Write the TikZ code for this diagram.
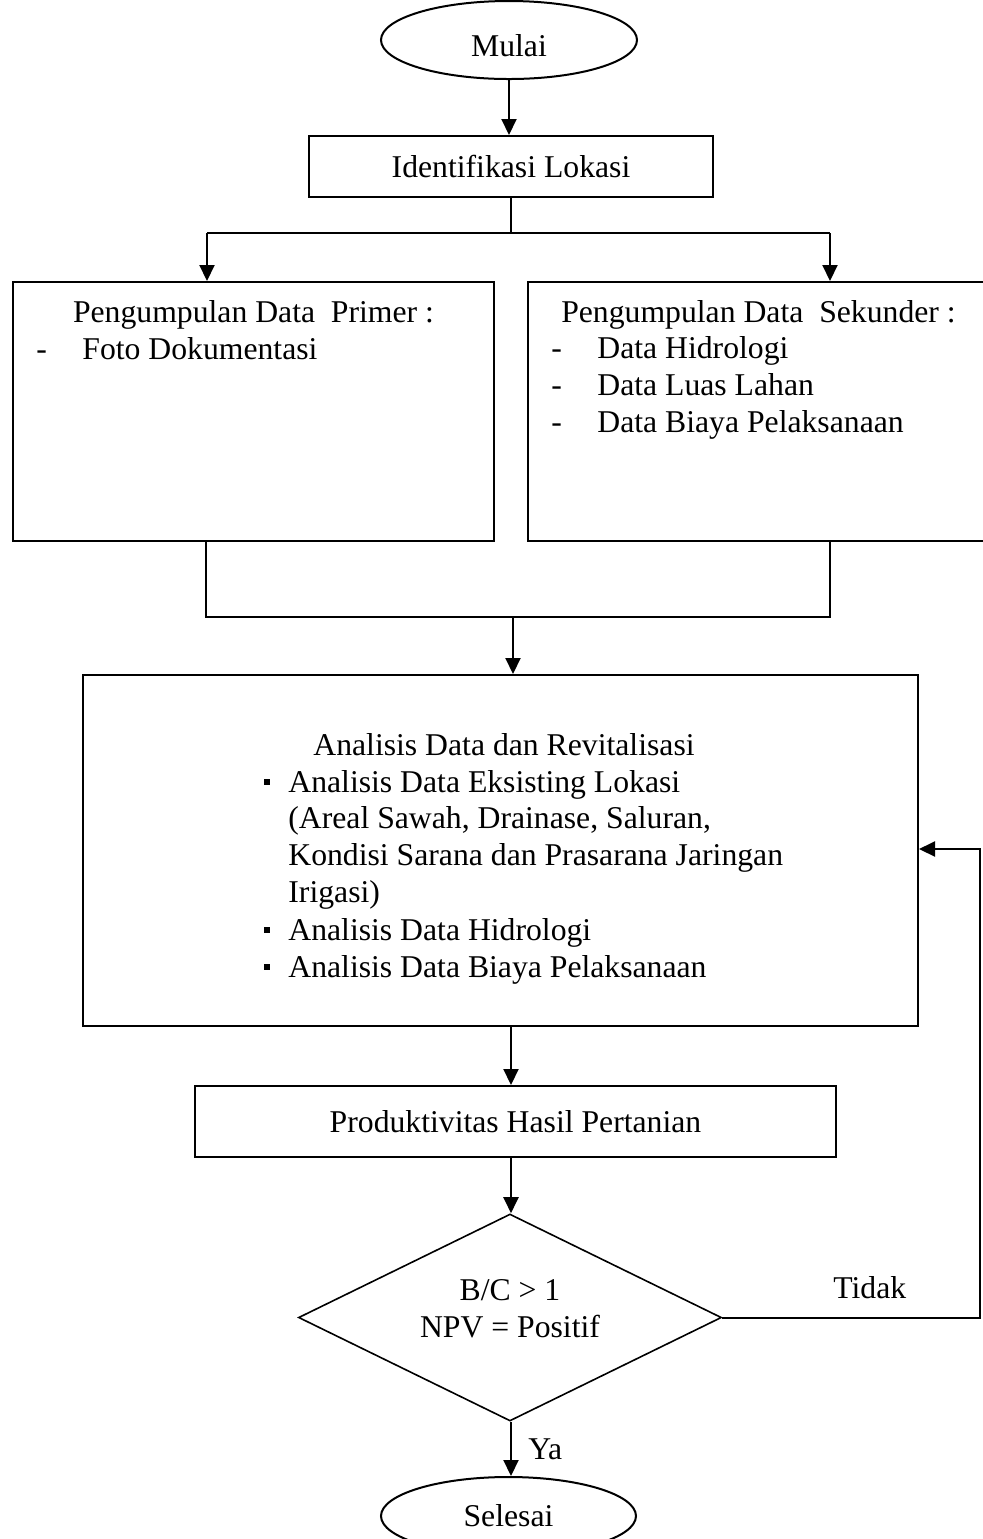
\documentclass[tikz,border=0pt]{standalone}
\usepackage{fontspec}
\setmainfont{Liberation Serif}
\usetikzlibrary{shapes.geometric,arrows.meta}

\begin{document}
\begin{tikzpicture}[x=0.5pt, y=-0.5pt,
        font=\fontsize{15.85}{18.5}\selectfont,
        kotak/.style={draw, line width=1pt, inner sep=0pt},
        teks/.style={inner sep=0pt, anchor=base west},
        garis/.style={line width=1pt},
        panah/.style={line width=1pt, -{Triangle[length=8pt,width=7.5pt]}}]
    \useasboundingbox (0,0) rectangle (982,1539);

    \node[kotak, ellipse, minimum width=128pt, minimum height=39pt, text height=17pt] (mulai) at (509,40) {Mulai};
    \node[kotak, minimum width=202pt, minimum height=30.5pt] (identifikasi) at (511,166.5) {Identifikasi Lokasi};
    \node[kotak, minimum width=240.5pt, minimum height=129.5pt] (primer) at (253.5,411.5) {};
    \node[kotak, minimum width=232pt, minimum height=129.5pt] (sekunder) at (760,411.5) {};
    \node[kotak, minimum width=417.5pt, minimum height=175.5pt] (analisis) at (500.5,850.5) {};
    \node[kotak, minimum width=320.5pt, minimum height=35.5pt] (produktivitas) at (515.5,1121.5) {Produktivitas Hasil Pertanian};
    \node[kotak, line width=0.8pt, diamond, aspect=2, minimum width=211.5pt, minimum height=103.5pt] (keputusan) at (510,1317.5) {};
    \node[kotak, ellipse, minimum width=127.5pt, minimum height=39pt] (selesai) at (508.5,1516) {Selesai};

    \node[teks, anchor=base] (judulprimer) at (253.5,322) {Pengumpulan Data\ \ Primer :};
    \node[teks] (strip-p1) at (36,359) {-};
    \node[teks] (primer-1) at (82,359) {Foto Dokumentasi};
    \node[teks, anchor=base] (judulsekunder) at (758.5,322) {Pengumpulan Data\ \ Sekunder :};
    \foreach \y/\isi [count=\i] in {358/Data Hidrologi, 395/Data Luas Lahan, 432/Data Biaya Pelaksanaan} {
        \node[teks] (strip-s\i) at (551,\y) {-};
        \node[teks] (sekunder-\i) at (597,\y) {\isi};
    }

    \node[teks] (judulanalisis) at (313,755) {Analisis Data dan Revitalisasi};
    \foreach \y/\isi [count=\i] in {792/Analisis Data Eksisting Lokasi, 828/{(Areal Sawah, Drainase, Saluran,}, 865/Kondisi Sarana dan Prasarana Jaringan, 902/Irigasi), 940/Analisis Data Hidrologi, 977/Analisis Data Biaya Pelaksanaan}
        \node[teks] (analisis-\i) at (288,\y) {\isi};
    \foreach \y in {792,940,977}
        \node[fill, inner sep=0pt, minimum size=2.6pt] (titik-\y) at (267,\y-10) {};

    \node[align=center, inner sep=0pt] (syarat) at (510,1309) {B/C > 1\\NPV = Positif};
    \node[teks] (tidak) at (833,1298) {Tidak};
    \node[teks] (ya) at (528,1459) {Ya};

    \coordinate (kiri) at (207,233);
    \coordinate (kanan) at (830,233);
    \coordinate (gabungkiri) at (206,617);
    \coordinate (gabungkanan) at (830,617);
    \coordinate (gabung) at (513,617);
    \coordinate (poros) at (511,1000);
    \coordinate (balik) at (980,849);

    \draw[panah] (mulai.south) -- (mulai.south |- identifikasi.north);
    \draw[garis] (identifikasi.south) -- (identifikasi.south |- kiri);
    \draw[garis] (kiri) -- (kanan);
    \draw[panah] (kiri) -- (kiri |- primer.north);
    \draw[panah] (kanan) -- (kanan |- sekunder.north);
    \draw[garis] (gabungkiri |- primer.south) -- (gabungkiri) -- (gabungkanan) -- (gabungkanan |- sekunder.south);
    \draw[panah] (gabung) -- (gabung |- analisis.north);
    \draw[panah] (poros |- analisis.south) -- (poros |- produktivitas.north);
    \draw[panah] (poros |- produktivitas.south) -- (poros |- keputusan.north);
    \draw[panah] (poros |- keputusan.south) -- (poros |- selesai.north);
    \draw[panah] (keputusan.east) -| (balik) -- (balik -| analisis.east);
\end{tikzpicture}
\end{document}
